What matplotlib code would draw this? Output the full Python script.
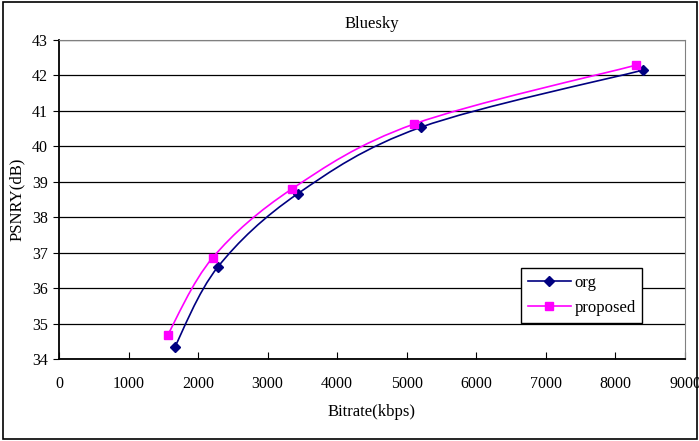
import matplotlib
matplotlib.use("Agg")
import matplotlib.pyplot as plt
from matplotlib.path import Path
from matplotlib.patches import PathPatch, Rectangle
from matplotlib.lines import Line2D
import numpy as np

plt.rcParams['font.family'] = ['Liberation Serif', 'DejaVu Serif']

title = "Bluesky"
xlabel = "Bitrate(kbps)"
ylabel = "PSNRY(dB)"
org_x = [1665, 2285, 3430, 5205, 8395]
org_y = [34.34, 36.60, 38.66, 40.54, 42.15]
prop_x = [1560, 2210, 3350, 5105, 8295]
prop_y = [34.67, 36.86, 38.80, 40.63, 42.29]
xticks = [0, 1000, 2000, 3000, 4000, 5000, 6000, 7000, 8000, 9000]
yticks = [34, 35, 36, 37, 38, 39, 40, 41, 42, 43]

fig = plt.figure(figsize=(6.99, 4.41), dpi=100)
ax = fig.add_axes([59/699, 1-359/441, 626/699, 319/441])

def smooth_path(xs, ys):
    p = np.column_stack([xs, ys]).astype(float)
    n = len(p)
    verts = [p[0]]
    codes = [Path.MOVETO]
    for i in range(n-1):
        p0 = p[i-1] if i > 0 else p[i]
        p1 = p[i]
        p2 = p[i+1]
        p3 = p[i+2] if i+2 < n else p[i+1]
        c1 = p1 + (p2 - p0)/6.0
        c2 = p2 - (p3 - p1)/6.0
        verts += [c1, c2, p2]
        codes += [Path.CURVE4]*3
    return Path(verts, codes)

for xs, ys, col, mk, ms in [(org_x, org_y, '#000080', 'D', 5.5),
                            (prop_x, prop_y, '#FF00FF', 's', 6)]:
    patch = PathPatch(smooth_path(xs, ys), facecolor='none', edgecolor=col,
                      lw=1.2, transform=ax.transData, zorder=3)
    ax.add_patch(patch)
    ax.plot(xs, ys, linestyle='none', marker=mk, color=col, ms=ms, zorder=4)

ax.set_xlim(0, 9000)
ax.set_ylim(34, 43)
ax.set_xticks(xticks)
ax.set_yticks(yticks)
ax.tick_params(axis='x', direction='in', length=5, labelsize=11.5, pad=12, color='black')
ax.tick_params(axis='y', direction='out', length=4, labelsize=11.5, pad=4, color='black')
ax.yaxis.grid(True, color='black', lw=0.9)
ax.set_axisbelow(True)
for s in ['top', 'right']:
    ax.spines[s].set_color('#808080')
ax.spines['left'].set_color('black')
ax.spines['bottom'].set_color('black')
ax.spines['left'].set_linewidth(1.3)
ax.spines['bottom'].set_linewidth(1.3)

ax.set_title(title, fontsize=12, pad=9)
ax.set_xlabel(xlabel, fontsize=12, labelpad=9)
ax.set_ylabel(ylabel, fontsize=12, labelpad=5)

handles = [Line2D([], [], color='#000080', marker='D', ms=5, lw=1.2),
           Line2D([], [], color='#FF00FF', marker='s', ms=5.5, lw=1.2)]
leg = ax.legend(handles, ['org', 'proposed'], loc='upper left',
                bbox_to_anchor=(0.738, 0.285), fontsize=12, frameon=True,
                fancybox=False, edgecolor='black', framealpha=1,
                handlelength=2.6, borderpad=0.4, labelspacing=0.55,
                handletextpad=0.2, borderaxespad=0)
leg.get_frame().set_linewidth(1.0)

fig.patches.append(Rectangle((3/699, 2/441), 694/699, 437/441, transform=fig.transFigure,
                             fill=False, edgecolor='black', lw=1.2))

fig.savefig("out.png", dpi=100)
